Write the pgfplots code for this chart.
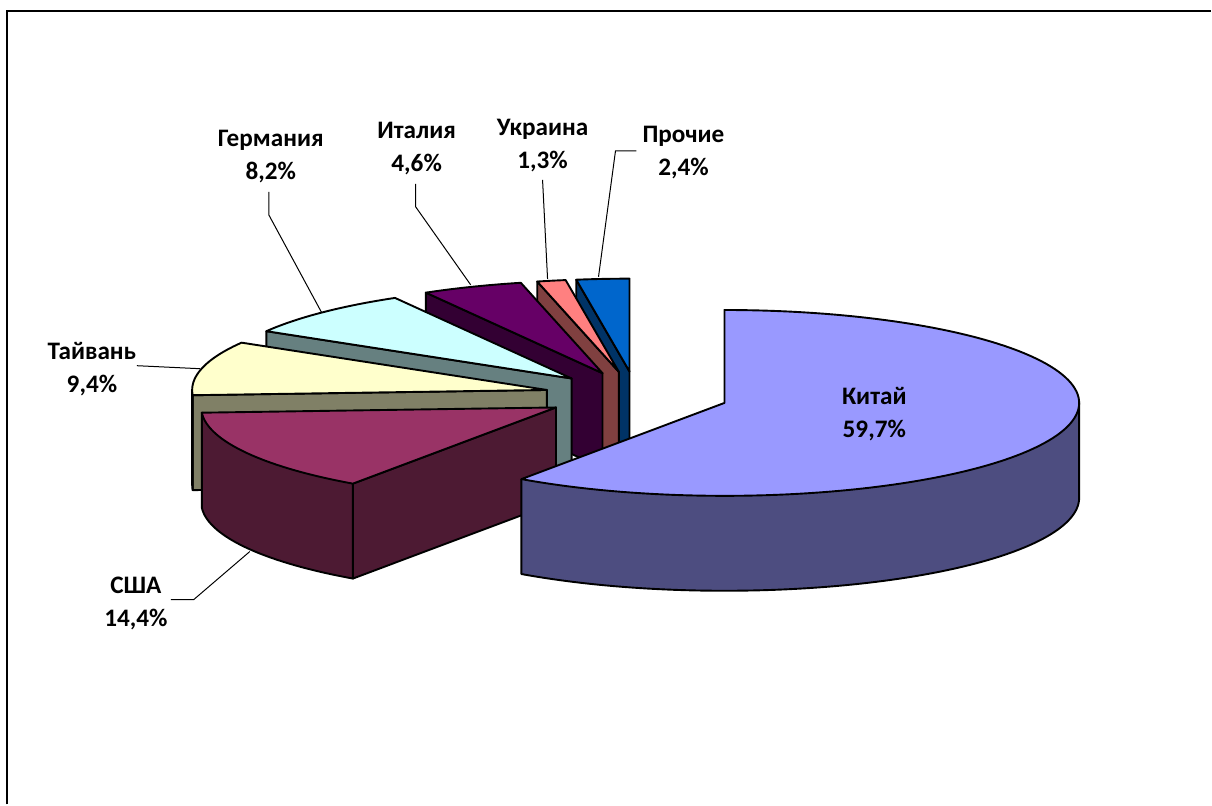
\documentclass[border=0pt]{standalone}
\usepackage{pgfplots}
\pgfplotsset{compat=1.18}
\usepackage{fontspec}
\setmainfont{Carlito}
\definecolor{kTop}{HTML}{9999FF}\definecolor{kWall}{HTML}{4D4D80}
\definecolor{uTop}{HTML}{993366}\definecolor{uWall}{HTML}{4D1A33}
\definecolor{tTop}{HTML}{FFFFCC}\definecolor{tWall}{HTML}{808066}
\definecolor{gTop}{HTML}{CCFFFF}\definecolor{gWall}{HTML}{668080}
\definecolor{iTop}{HTML}{660066}\definecolor{iWall}{HTML}{330033}
\definecolor{ukTop}{HTML}{FF8080}\definecolor{ukWall}{HTML}{804040}
\definecolor{pTop}{HTML}{0066CC}\definecolor{pWall}{HTML}{003366}

\def\rx{355}\def\ry{93}\def\dep{95}\def\xo{637}\def\yo{396}\def\ex{0.26}
\xdef\curA{90}

% #1 share in percent, #2 top colour, #3 side colour
\newcommand\drawslice[3]{%
  \pgfmathsetmacro\aone{\curA}%
  \pgfmathsetmacro\atwo{\curA+3.6*#1}%
  \xdef\curA{\atwo}%
  \pgfmathsetmacro\am{(\aone+\atwo)/2}%
  \pgfmathsetmacro\cx{\xo+\ex*\rx*cos(\am)}%
  \pgfmathsetmacro\cy{\yo-\ex*\ry*sin(\am)}%
  \pgfmathsetmacro\cyb{\cy+\dep}%
  \pgfmathsetmacro\pxb{\cx+\rx*cos(\atwo)}%
  \pgfmathsetmacro\pyb{\cy-\ry*sin(\atwo)}%
  \pgfmathsetmacro\pybb{\pyb+\dep}%
  \edef\tmp{\noexpand\addplot[fill=#3,draw=black,line width=0.95pt,line join=round] coordinates {(\cx,\cy) (\pxb,\pyb) (\pxb,\pybb) (\cx,\cyb)} -- cycle;}\tmp
  \pgfmathsetmacro\wone{max(\aone,180)}%
  \pgfmathsetmacro\wtwo{min(\atwo,360)}%
  \pgfmathtruncatemacro\wvis{\wtwo>\wone+0.01}%
  \ifnum\wvis=1
    \pgfmathsetmacro\qxa{\cx+\rx*cos(\wone)}%
    \pgfmathsetmacro\qya{\cy-\ry*sin(\wone)}%
    \pgfmathsetmacro\qxb{\cx+\rx*cos(\wtwo)}%
    \pgfmathsetmacro\qyb{\cy-\ry*sin(\wtwo)}%
    \edef\tmp{\noexpand\addplot[fill=#3,draw=black,line width=0.95pt,line join=round,domain=\wone:\wtwo,samples=90] ({\cx+\rx*cos(x)},{\cyb-\ry*sin(x)}) -- (axis cs:\qxb,\qyb) -- (axis cs:\qxa,\qya) -- cycle;}\tmp
  \fi
  \edef\tmp{\noexpand\addplot[fill=#2,draw=black,line width=0.95pt,line join=round,domain=\aone:\atwo,samples=120] ({\cx+\rx*cos(x)},{\cy-\ry*sin(x)}) -- (axis cs:\cx,\cy) -- cycle;}\tmp
}

\begin{document}
\begin{tikzpicture}
\begin{axis}[width=606pt,height=402.5pt,scale only axis,
  xmin=0,xmax=1212,ymin=0,ymax=805,y dir=reverse,
  hide axis,clip=false]
% invisible extent of the whole picture
\addplot[draw=none] coordinates {(0,0) (1212,805)};
% frame
\addplot[black,line width=1pt] coordinates {(7,805) (7,11) (1212,11)};
% slices, drawn back to front (counter-clockwise from 12 o'clock)
\drawslice{2.4}{pTop}{pWall}   % Прочие
\drawslice{1.3}{ukTop}{ukWall} % Украина
\drawslice{4.6}{iTop}{iWall}   % Италия
\drawslice{8.2}{gTop}{gWall}   % Германия
\drawslice{9.4}{tTop}{tWall}   % Тайвань
\drawslice{14.4}{uTop}{uWall}  % США
\drawslice{59.7}{kTop}{kWall}  % Китай
% leader lines
\addplot[black,line width=0.5pt] coordinates {(269,192) (269,215) (322,313)};
\addplot[black,line width=0.5pt] coordinates {(416,184) (416,207) (471,285)};
\addplot[black,line width=0.5pt] coordinates {(543,180) (548,279)};
\addplot[black,line width=0.5pt] coordinates {(637,151) (616,151) (599,277)};
\addplot[black,line width=0.5pt] coordinates {(137,366) (200,369)};
\addplot[black,line width=0.5pt] coordinates {(171,600) (194,600) (250,552)};
% labels
\tikzset{lab/.style={align=center,inner sep=0pt,font=\bfseries\fontsize{12.6}{16.5}\selectfont}}
\node[lab] at (axis cs:271,157) {Германия\\8,2\%};
\node[lab] at (axis cs:417,149) {Италия\\4,6\%};
\node[lab] at (axis cs:543,146) {Украина\\1,3\%};
\node[lab] at (axis cs:684,153) {Прочие\\2,4\%};
\node[lab] at (axis cs:92,369) {Тайвань\\9,4\%};
\node[lab] at (axis cs:136,604) {США\\14,4\%};
\node[lab] at (axis cs:875,414) {Китай\\59,7\%};
\end{axis}
\end{tikzpicture}
\end{document}
